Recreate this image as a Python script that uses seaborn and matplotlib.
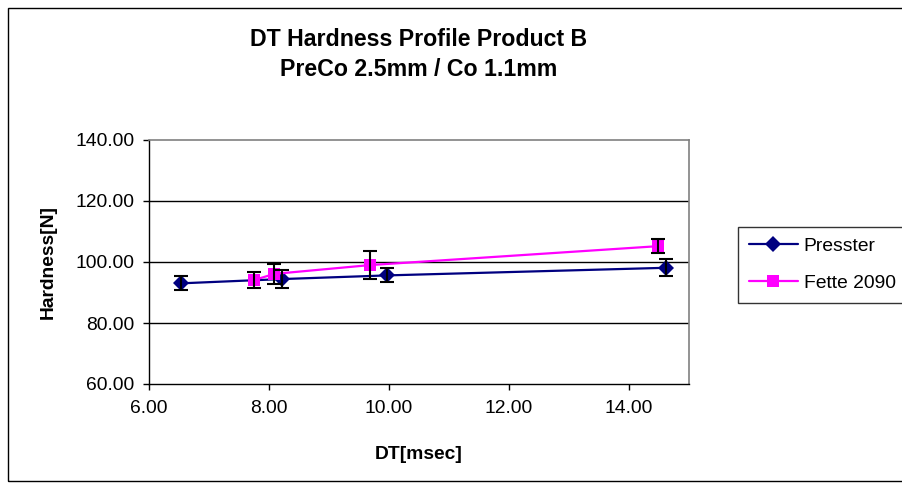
import matplotlib
matplotlib.use("Agg")
import matplotlib.pyplot as plt
from matplotlib.lines import Line2D
from matplotlib.patches import Rectangle
import numpy as np
import pandas as pd
import seaborn as sns

# Dwell time [msec] vs. tablet hardness [N] for two tablet presses
presster_dt = [6.53, 8.21, 9.96, 14.61]
presster_hardness = [93.0, 94.4, 95.6, 98.1]
presster_sd = [2.3, 3.0, 2.3, 2.8]

fette_dt = [7.75, 8.09, 9.69, 14.49]
fette_hardness = [94.1, 96.1, 99.0, 105.2]
fette_sd = [2.6, 3.3, 4.6, 2.4]

series_names = ["Presster", "Fette 2090"]
series_colors = {"Presster": "#000080", "Fette 2090": "#FF00FF"}
series_markers = {"Presster": "D", "Fette 2090": "s"}
series_msize = {"Presster": 8.5, "Fette 2090": 8.5}

x_ticks = [6, 8, 10, 12, 14]
y_ticks = [60, 80, 100, 120, 140]

df = pd.concat([
    pd.DataFrame({"DT": presster_dt, "Hardness": presster_hardness,
                  "SD": presster_sd, "Press": "Presster"}),
    pd.DataFrame({"DT": fette_dt, "Hardness": fette_hardness,
                  "SD": fette_sd, "Press": "Fette 2090"}),
], ignore_index=True)

sns.set_theme(style="white")
plt.rcParams["font.family"] = ["Liberation Sans", "DejaVu Sans"]
plt.rcParams["text.color"] = "black"
plt.rcParams["axes.labelcolor"] = "black"

W, H = 902, 488
fig = plt.figure(figsize=(W / 100, H / 100), dpi=100)
fig.patch.set_facecolor("white")

# plot area in pixel coordinates
L, R, T, B = 149, 689, 140, 384
ax = fig.add_axes([L / W, 1 - B / H, (R - L) / W, (B - T) / H])
ax.set_facecolor("white")

sns.lineplot(data=df, x="DT", y="Hardness", hue="Press", style="Press",
             hue_order=series_names, style_order=series_names,
             palette=series_colors, markers=series_markers, dashes=False,
             linewidth=1.6, markersize=8.5, markeredgewidth=0,
             legend=False, ax=ax, zorder=3)

for name in series_names:
    sub = df[df["Press"] == name]
    ax.errorbar(sub["DT"], sub["Hardness"], yerr=sub["SD"], fmt="none",
                ecolor="black", elinewidth=1.5, capsize=5, capthick=1.5,
                zorder=4)

ax.set_xlim(6, 15)
ax.set_ylim(60, 140)
ax.set_xticks(x_ticks)
ax.set_yticks(y_ticks)
ax.set_xticklabels([f"{v:.2f}" for v in x_ticks])
ax.set_yticklabels([f"{v:.2f}" for v in y_ticks])

for y in y_ticks[1:-1]:
    ax.axhline(y, color="black", linewidth=1.0, zorder=1)

for side in ["top", "right"]:
    ax.spines[side].set_color("#808080")
    ax.spines[side].set_linewidth(1.2)
for side in ["left", "bottom"]:
    ax.spines[side].set_color("black")
    ax.spines[side].set_linewidth(1.0)

ax.tick_params(axis="both", direction="out", length=4.5, width=1.0,
               color="black", labelsize=13.9, labelcolor="black",
               left=True, bottom=True)
ax.tick_params(axis="y", pad=6)
ax.tick_params(axis="x", pad=7)

ax.set_xlabel("DT[msec]", fontsize=13.9, fontweight="bold", labelpad=21,
              color="black")
ax.set_ylabel("Hardness[N]", fontsize=13.9, fontweight="bold", labelpad=13,
              color="black")

fig.text(419 / W, 1 - 39 / H, "DT Hardness Profile Product B",
         ha="center", va="center", fontsize=16.7, fontweight="bold",
         color="black")
fig.text(419 / W, 1 - 69 / H, "PreCo 2.5mm / Co 1.1mm",
         ha="center", va="center", fontsize=16.7, fontweight="bold",
         color="black")

handles = [Line2D([0], [0], color=series_colors[n], marker=series_markers[n],
                  markersize=series_msize[n], markeredgewidth=0, linewidth=1.6)
           for n in series_names]
leg = fig.legend(handles, series_names, loc="upper left",
                 bbox_to_anchor=(738 / W, 1 - 227 / H), frameon=True,
                 fancybox=False, edgecolor="black", fontsize=13.9,
                 handlelength=2.55, handletextpad=0.3, labelspacing=1.0,
                 borderpad=0.55, borderaxespad=0)
leg.get_frame().set_linewidth(1.0)
for t in leg.get_texts():
    t.set_color("black")

# outer chart border
fig.patches.append(Rectangle((8 / W, 1 - 481 / H), 1.0, 473 / H,
                             transform=fig.transFigure, fill=False,
                             edgecolor="black", linewidth=1.0))

fig.savefig("out.png", dpi=100, facecolor="white")
